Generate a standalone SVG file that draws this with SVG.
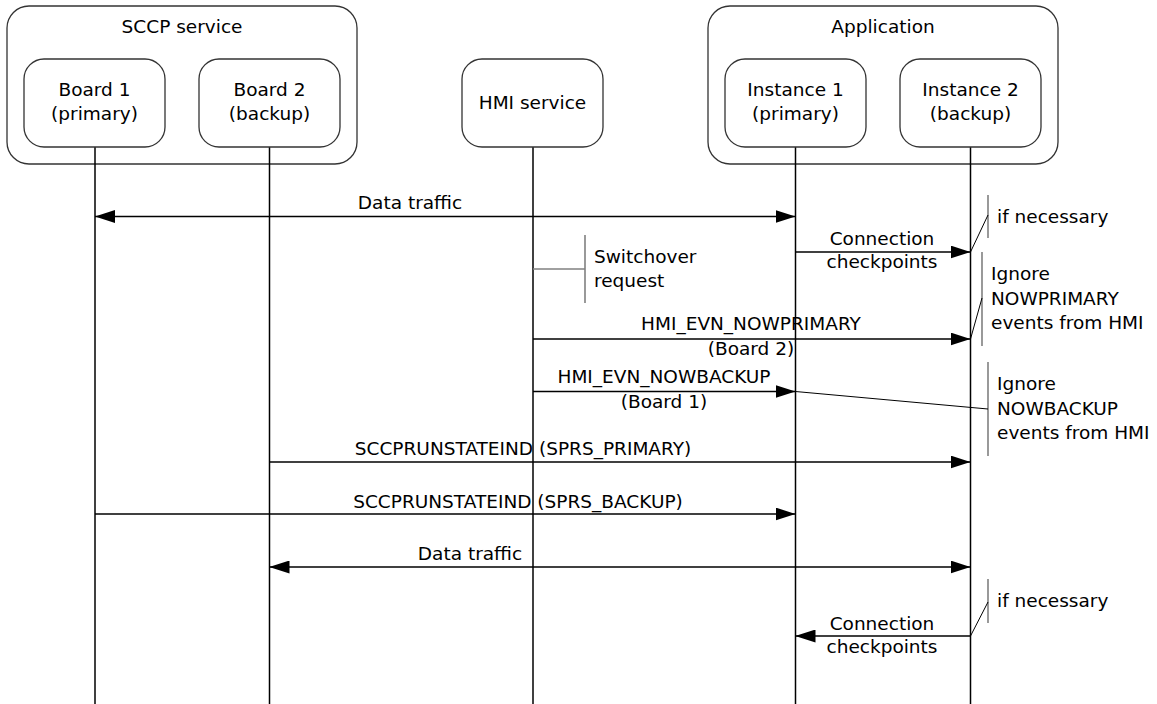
<svg xmlns="http://www.w3.org/2000/svg" width="1157" height="704" viewBox="0 0 1157 704">
  <style>
    text { font-family: "DejaVu Sans", "Liberation Sans", sans-serif; font-size: 18.5px; fill: #000; }
    .mid { text-anchor: middle; }
    .box { fill: #fff; stroke: #333; stroke-width: 1.3; }
    .life { stroke: #000; stroke-width: 1.5; fill: none; }
    .msg { stroke: #000; stroke-width: 1.6; fill: none; }
    .note { stroke: #808080; stroke-width: 1.6; fill: none; }
    .link { stroke: #000; stroke-width: 1; fill: none; }
  </style>
  <defs>
    <marker id="ah" viewBox="0 0 20 13" refX="20" refY="6.5" markerWidth="20" markerHeight="13" markerUnits="userSpaceOnUse" orient="auto-start-reverse">
      <path d="M0,0 L20,6.5 L0,13 z" fill="#000"/>
    </marker>
  </defs>
  <rect width="1157" height="704" fill="#fff"/>

  <!-- containers -->
  <g id="sccp-service">
    <rect class="box" x="7" y="6" width="350" height="158" rx="22"/>
    <text class="mid" x="182" y="33">SCCP service</text>
  </g>
  <g id="application">
    <rect class="box" x="708" y="6" width="350" height="158" rx="22"/>
    <text class="mid" x="883" y="33">Application</text>
  </g>

  <!-- lifelines -->
  <g id="lifelines">
    <line class="life" x1="95" y1="147" x2="95" y2="704"/>
    <line class="life" x1="269.5" y1="147" x2="269.5" y2="704"/>
    <line class="life" x1="533" y1="147" x2="533" y2="704"/>
    <line class="life" x1="795.5" y1="147" x2="795.5" y2="704"/>
    <line class="life" x1="970.5" y1="147" x2="970.5" y2="704"/>
  </g>

  <!-- participants -->
  <g id="board1">
    <rect class="box" x="24" y="59" width="141" height="88" rx="20"/>
    <text class="mid" x="94.5" y="96">Board 1</text>
    <text class="mid" x="94.5" y="120">(primary)</text>
  </g>
  <g id="board2">
    <rect class="box" x="199" y="59" width="141" height="88" rx="20"/>
    <text class="mid" x="269.5" y="96">Board 2</text>
    <text class="mid" x="269.5" y="120">(backup)</text>
  </g>
  <g id="hmi-service">
    <rect class="box" x="462" y="59" width="141" height="88" rx="20"/>
    <text class="mid" x="532.5" y="109">HMI service</text>
  </g>
  <g id="instance1">
    <rect class="box" x="725" y="59" width="141" height="88" rx="20"/>
    <text class="mid" x="795.5" y="96">Instance 1</text>
    <text class="mid" x="795.5" y="120">(primary)</text>
  </g>
  <g id="instance2">
    <rect class="box" x="900" y="59" width="141" height="88" rx="20"/>
    <text class="mid" x="970.5" y="96">Instance 2</text>
    <text class="mid" x="970.5" y="120">(backup)</text>
  </g>

  <!-- messages -->
  <g id="connectors">
    <line class="msg" x1="95" y1="216.5" x2="795.5" y2="216.5" marker-start="url(#ah)" marker-end="url(#ah)"/>
    <line class="msg" x1="795.5" y1="252" x2="970.5" y2="252" marker-end="url(#ah)"/>
    <line class="msg" x1="533" y1="339" x2="970.5" y2="339" marker-end="url(#ah)"/>
    <line class="msg" x1="533" y1="391.5" x2="795.5" y2="391.5" marker-end="url(#ah)"/>
    <line class="msg" x1="269.5" y1="462" x2="970.5" y2="462" marker-end="url(#ah)"/>
    <line class="msg" x1="95" y1="514" x2="795.5" y2="514" marker-end="url(#ah)"/>
    <line class="msg" x1="269.5" y1="567" x2="970.5" y2="567" marker-start="url(#ah)" marker-end="url(#ah)"/>
    <line class="msg" x1="970.5" y1="636" x2="795.5" y2="636" marker-end="url(#ah)"/>
  </g>

  <!-- message labels -->
  <g id="message-labels">
    <text class="mid" x="410" y="209">Data traffic</text>
    <text class="mid" x="882" y="245">Connection</text>
    <text class="mid" x="882" y="268">checkpoints</text>
    <text class="mid" x="751" y="330">HMI_EVN_NOWPRIMARY</text>
    <text class="mid" x="751" y="355">(Board 2)</text>
    <text class="mid" x="664" y="383">HMI_EVN_NOWBACKUP</text>
    <text class="mid" x="664" y="408">(Board 1)</text>
    <text class="mid" x="523" y="455">SCCPRUNSTATEIND (SPRS_PRIMARY)</text>
    <text class="mid" x="518" y="508">SCCPRUNSTATEIND (SPRS_BACKUP)</text>
    <text class="mid" x="470" y="560">Data traffic</text>
    <text class="mid" x="882" y="630">Connection</text>
    <text class="mid" x="882" y="653">checkpoints</text>
  </g>

  <!-- annotations -->
  <g id="note-if-necessary-1">
    <line class="note" x1="988" y1="195" x2="988" y2="238"/>
    <line class="link" x1="970.5" y1="252" x2="988" y2="215"/>
    <text x="997" y="223">if necessary</text>
  </g>
  <g id="note-switchover">
    <line class="note" x1="533" y1="269" x2="585" y2="269"/>
    <line class="note" x1="585" y1="235" x2="585" y2="303"/>
    <text x="594" y="263">Switchover</text>
    <text x="594" y="287">request</text>
  </g>
  <g id="note-ignore-nowprimary">
    <line class="note" x1="982" y1="252" x2="982" y2="346"/>
    <line class="link" x1="970.5" y1="339" x2="982" y2="298"/>
    <text x="991" y="280">Ignore</text>
    <text x="991" y="305">NOWPRIMARY</text>
    <text x="991" y="329">events from HMI</text>
  </g>
  <g id="note-ignore-nowbackup">
    <line class="note" x1="988" y1="362" x2="988" y2="456"/>
    <line class="link" x1="795.5" y1="391.5" x2="988" y2="409"/>
    <text x="997" y="390">Ignore</text>
    <text x="997" y="415">NOWBACKUP</text>
    <text x="997" y="439">events from HMI</text>
  </g>
  <g id="note-if-necessary-2">
    <line class="note" x1="988" y1="579" x2="988" y2="623"/>
    <line class="link" x1="970.5" y1="636" x2="988" y2="602"/>
    <text x="997" y="607">if necessary</text>
  </g>
</svg>
